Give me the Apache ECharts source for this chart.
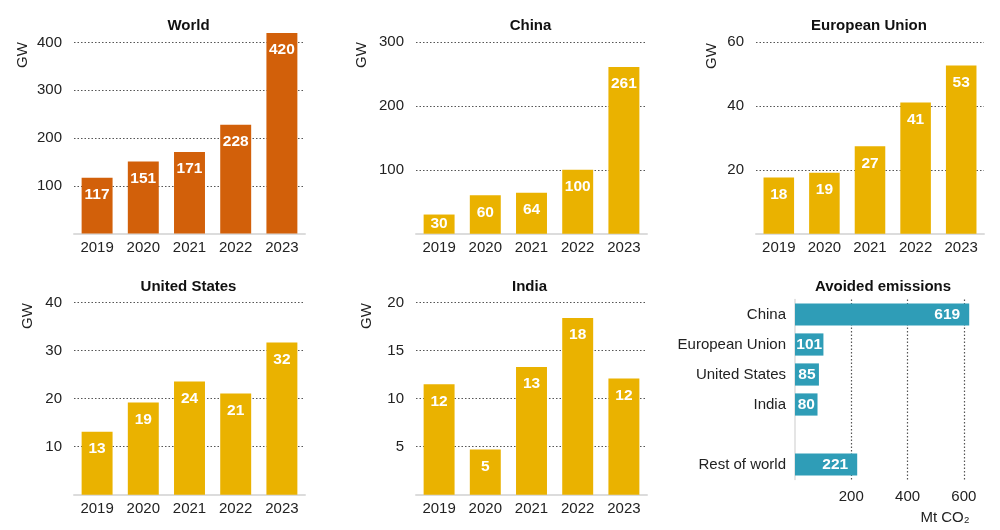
<!DOCTYPE html>
<html>
<head>
<meta charset="utf-8">
<script src="https://cdn.jsdelivr.net/npm/echarts@6/dist/echarts.min.js"></script>
<style>
html,body{margin:0;padding:0;background:#fff;}
#chart{width:1000px;height:530px;}
</style>
</head>
<body>
<div id="chart"></div>
<script>
// ---- data ----
const years = ['2019', '2020', '2021', '2022', '2023'];
const worldGW = [117, 151, 171, 228, 420];
const chinaGW = [30, 60, 64, 100, 261];
const euGW = [17.6, 19.1, 27.4, 41.1, 52.7];
const usGW = [13.1, 19.2, 23.6, 21.1, 31.7];
const indiaGW = [11.5, 4.7, 13.3, 18.4, 12.1];
const regions = ['China', 'European Union', 'United States', 'India', '', 'Rest of world'];
const avoidedMt = [619, 101, 85, 80, null, 221];

// ---- layout / style ----
const FONT = 'Liberation Sans, Arial, sans-serif';
const ORANGE = '#D2600A';
const GOLD = '#EAB200';
const TEAL = '#2F9DB7';
const W = 1000, H = 530;

const panels = [
  {title: 'World', data: worldGW, color: ORANGE, x0: 74, x1: 305, top: 23.5, zero: 233.5, max: 440, interval: 100, showMax: false, gw: [23, 55], tx: 183.5},
  {title: 'China', data: chinaGW, color: GOLD, x0: 416, x1: 647, top: 42, zero: 233.7, max: 300, interval: 100, showMax: true, gw: [362, 55], tx: 525.5},
  {title: 'European Union', data: euGW, color: GOLD, x0: 756, x1: 984, top: 42.3, zero: 233.7, max: 60, interval: 20, showMax: true, gw: [712, 56], tx: 864},
  {title: 'United States', data: usGW, color: GOLD, x0: 74, x1: 305, top: 302.7, zero: 494.7, max: 40, interval: 10, showMax: true, gw: [28, 316], tx: 183.5},
  {title: 'India', data: indiaGW, color: GOLD, x0: 416, x1: 647, top: 302.7, zero: 494.7, max: 20, interval: 5, showMax: true, gw: [367, 316], tx: 524.5}
];

const grids = [], xAxes = [], yAxes = [], series = [], titles = [], graphics = [];

panels.forEach((p, i) => {
  grids.push({left: p.x0, width: p.x1 - p.x0, top: p.top, height: p.zero - p.top, containLabel: false});
  xAxes.push({
    type: 'category', gridIndex: i, data: years,
    axisLine: {show: true, lineStyle: {color: '#dcdcdc', width: 2}},
    axisTick: {show: false},
    axisLabel: {color: '#222', fontFamily: FONT, fontSize: 15, margin: 7}
  });
  yAxes.push({
    type: 'value', gridIndex: i, min: 0, max: p.max, interval: p.interval,
    axisLine: {show: false}, axisTick: {show: false},
    axisLabel: {color: '#222', fontFamily: FONT, fontSize: 15, margin: 12, showMinLabel: false, showMaxLabel: p.showMax},
    splitLine: {show: true, showMinLine: false, showMaxLine: p.showMax, lineStyle: {color: '#555', type: [1.5, 2], width: 1.2}}
  });
  series.push({
    type: 'bar', xAxisIndex: i, yAxisIndex: i,
    data: p.data.map(v => ({
      value: v,
      label: (v / p.max < 0.12) ? {position: 'inside'} : {}
    })),
    barCategoryGap: '33%',
    itemStyle: {color: p.color},
    label: {
      show: true, position: 'insideTop', distance: 9,
      color: '#fff', fontFamily: FONT, fontSize: 15.5, fontWeight: 'bold',
      formatter: (d) => Math.round(d.value)
    }
  });
  titles.push({
    text: p.title, left: p.tx, top: (i < 3 ? 13 : 274), textAlign: 'center',
    textStyle: {fontFamily: FONT, fontSize: 15, fontWeight: 'bold', color: '#111'}
  });
  graphics.push({
    type: 'text', x: p.gw[0], y: p.gw[1], rotation: Math.PI / 2,
    style: {text: 'GW', fontFamily: FONT, fontSize: 15, fill: '#222', align: 'center', verticalAlign: 'middle'}
  });
});

// Avoided emissions (horizontal bars)
const ai = panels.length;
grids.push({left: 795, width: 969.5 - 795, top: 299.5, height: 180});
xAxes.push({
  type: 'value', gridIndex: ai, min: 0, max: 620, interval: 200,
  axisLine: {show: false}, axisTick: {show: false},
  axisLabel: {color: '#222', fontFamily: FONT, fontSize: 15, margin: 10, showMinLabel: false, showMaxLabel: false},
  splitLine: {show: true, showMinLine: false, showMaxLine: false, lineStyle: {color: '#555', type: [1.5, 2], width: 1.2}}
});
yAxes.push({
  type: 'category', gridIndex: ai, data: regions, inverse: true,
  axisLine: {show: true, lineStyle: {color: '#dcdcdc', width: 1.5}},
  axisTick: {show: false},
  axisLabel: {color: '#222', fontFamily: FONT, fontSize: 15, margin: 9}
});
series.push({
  type: 'bar', xAxisIndex: ai, yAxisIndex: ai,
  data: avoidedMt.map(v => ({
    value: v,
    label: {position: (v !== null && v > 150) ? 'insideRight' : 'inside', distance: 9}
  })),
  barCategoryGap: '26%',
  itemStyle: {color: TEAL},
  label: {
    show: true, color: '#fff', fontFamily: FONT, fontSize: 15.5, fontWeight: 'bold',
    formatter: (d) => d.value == null ? '' : Math.round(d.value)
  }
});
titles.push({
  text: 'Avoided emissions', left: 878, top: 274, textAlign: 'center',
  textStyle: {fontFamily: FONT, fontSize: 15, fontWeight: 'bold', color: '#111'}
});
graphics.push({
  type: 'text', x: 945, y: 518,
  style: {text: 'Mt CO₂', fontFamily: FONT, fontSize: 15, fill: '#222', align: 'center', verticalAlign: 'middle'}
});

const chart = echarts.init(document.getElementById('chart'), null, {renderer: 'canvas', width: W, height: H});
chart.setOption({
  animation: false,
  backgroundColor: '#fff',
  title: titles,
  grid: grids,
  xAxis: xAxes,
  yAxis: yAxes,
  series: series,
  graphic: graphics
});
</script>
</body>
</html>
